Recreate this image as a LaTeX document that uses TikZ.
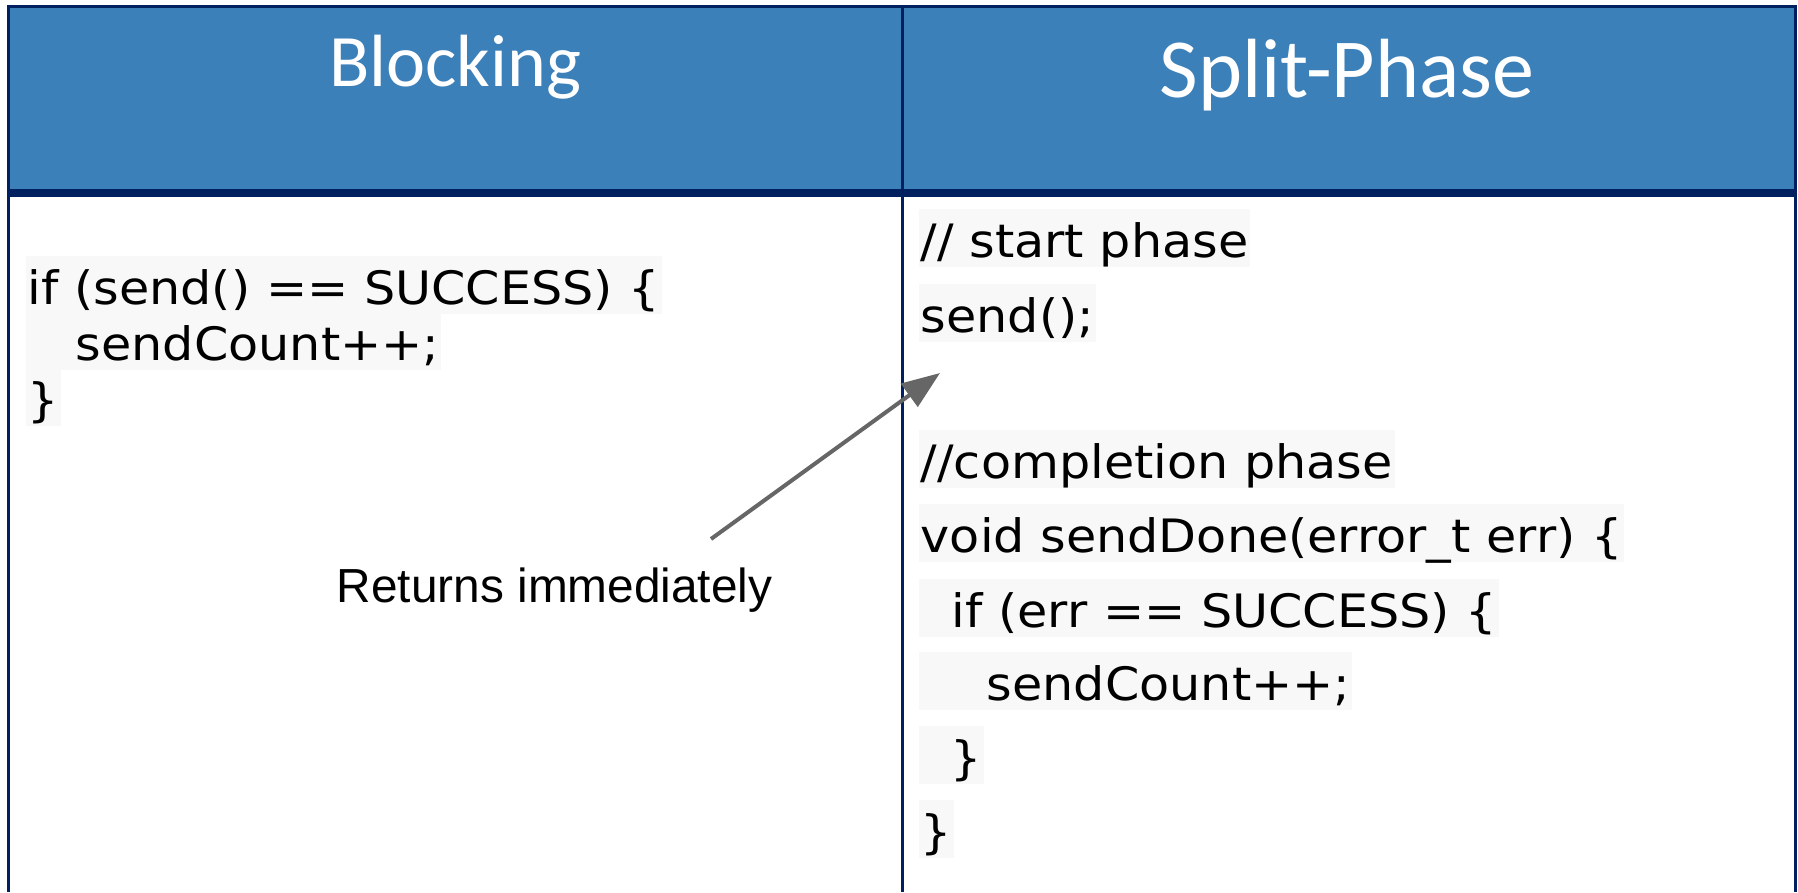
\documentclass[tikz,border=0pt]{standalone}
\usepackage{fontspec}
\setmainfont{Liberation Sans}
\newfontfamily\headfont{Carlito}
\newfontfamily\codefont[FakeStretch=1.07]{DejaVu Sans}
\usepackage{tikz}
\usetikzlibrary{arrows.meta}
\definecolor{headblue}{HTML}{3C80BA}
\definecolor{navy}{HTML}{002060}
\definecolor{codebg}{HTML}{F8F8F8}
\definecolor{arrowgray}{HTML}{666666}

\begin{document}
\begin{tikzpicture}[x=0.25pt,y=-0.25pt,
        head/.style={text=white,inner sep=0,anchor=base},
        code/.style={fill=codebg,inner xsep=0.5pt,inner ysep=0,text height=12pt,text depth=2.5pt,
            anchor=base west,font=\codefont\fontsize{11.5}{13}\selectfont}]
        \useasboundingbox[fill=white] (0,0) rectangle (1798,892);
        \fill[headblue] (8,6) rectangle (1795,189);
        \fill[navy] (8,189) rectangle (1795,197);
        \draw[navy,line width=0.75pt] (8,892) -- (8,6) -- (1795,6) -- (1795,892);
        \draw[navy,line width=0.75pt] (902,6) -- (902,892);
        \node[head,font=\headfont\fontsize{18.5}{22}\selectfont] (blk) at (455,86) {Blocking};
        \node[head,font=\headfont\fontsize{21}{25}\selectfont] (spl) at (1347,97) {Split-Phase};
        \node[code] (b1) at (25,304) {if (send() == SUCCESS) \{};
        \node[code] (b2) at (25,360) {\hspace{12pt}sendCount++;};
        \node[code] (b3) at (25,416) {\}};
        \node[code] (s1) at (918,257) {// start phase};
        \node[code] (s2) at (918,332) {send();};
        \node[code] (s3) at (918,478) {//completion phase};
        \node[code] (s4) at (918,552) {void sendDone(error\_t err) \{};
        \node[code] (s5) at (918,627) {\hspace{7.75pt}if (err == SUCCESS) \{};
        \node[code] (s6) at (918,700) {\hspace{16.5pt}sendCount++;};
        \node[code] (s7) at (918,774) {\hspace{7.5pt}\}};
        \node[code] (s8) at (918,848) {\}};
        \node[font=\fontsize{11.95}{14}\selectfont,inner sep=0,anchor=base west] (ret) at (336,602) {Returns immediately};
        \coordinate (tail) at (711,539);
        \coordinate (tip) at (940,373);
        \draw[arrowgray,line width=1pt,-{Triangle[length=9.5pt,width=7pt]}] (tail) -- (tip);
\end{tikzpicture}
\end{document}
